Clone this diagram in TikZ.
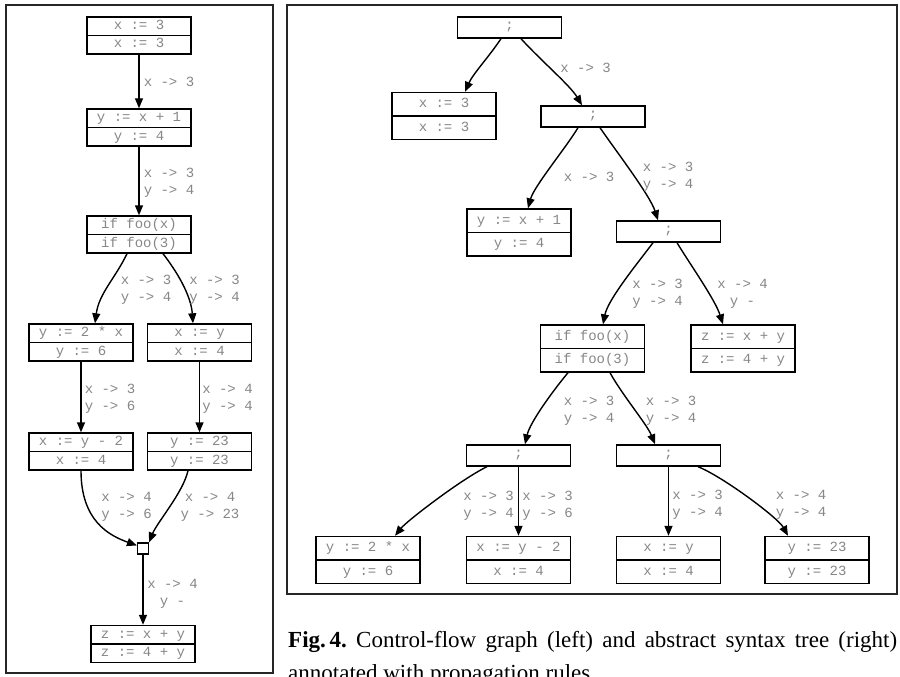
\documentclass[tikz,border=0pt]{standalone}
\usepackage{fontspec}
\setmainfont{Liberation Serif}
\newfontfamily\cfgmono{Liberation Mono}
\usetikzlibrary{shapes.multipart,arrows.meta,calc}
\definecolor{tgray}{RGB}{135,135,135}
\newcommand{\boxstrut}{\rule[-4pt]{0pt}{14.5pt}}
\newcommand{\tb}[2]{\makebox[98pt]{\boxstrut #1}\nodepart{two}\makebox[98pt]{\boxstrut #2}}
\tikzset{
  monotext/.style={font=\cfgmono\fontsize{14}{17}\selectfont, text=tgray},
  cfgbox/.style={rectangle split, rectangle split parts=2, draw=black, line width=1.4pt,
    monotext, inner xsep=3pt, inner ysep=1.3pt},
  astbox/.style={cfgbox, inner ysep=3.8pt},
  semibox/.style={draw=black, line width=1.4pt, monotext, minimum width=104pt,
    minimum height=21pt, inner sep=0pt},
  junct/.style={draw=black, line width=1.1pt, minimum size=11pt, inner sep=0pt},
  lbl/.style={monotext, align=center, inner sep=0pt},
  flow/.style={line width=1.4pt, draw=black, -{Triangle[length=10pt,width=8pt]}},
  panel/.style={draw=black!85, line width=1.5pt},
}
\begin{document}
\begin{tikzpicture}[x=1pt,y=-1pt]
\useasboundingbox (0,0) rectangle (900,677);
\clip (0,0) rectangle (900,677);
\fill[white] (0,0) rectangle (900,677);
% panels
\draw[panel] (6,5) rectangle (273,673);
\draw[panel] (287,5) rectangle (897,594);

% ---------- left: control-flow graph ----------
\node[cfgbox] (A) at (139,35.5) {\tb{x := 3}{x := 3}};
\node[cfgbox] (B) at (139,127.5) {\tb{y := x + 1}{y := 4}};
\node[cfgbox] (C) at (139,234.5) {\tb{if foo(x)}{if foo(3)}};
\node[cfgbox] (D) at (81,342.5) {\tb{y := 2 * x}{y := 6}};
\node[cfgbox] (E) at (199.5,342.5) {\tb{x := y}{x := 4}};
\node[cfgbox] (F) at (81,451.5) {\tb{x := y - 2}{x := 4}};
\node[cfgbox] (G) at (199.5,451.5) {\tb{y := 23}{y := 23}};
\node[junct] (J) at (143,548.5) {};
\node[cfgbox] (H) at (143,644) {\tb{z := x + y}{z := 4 + y}};

\draw[flow] (A) -- (B);
\draw[flow] (B) -- (C);
\draw[flow] ([xshift=-12pt]C.south) .. controls +(-12,25) and +(4,-30) .. ([xshift=14pt]D.north);
\draw[flow] ([xshift=24pt]C.south) .. controls +(14,18) and +(-2,-28) .. ([xshift=-6.5pt]E.north);
\draw[flow] (D) -- (F);
\draw[flow] (E) -- (G);
\draw[flow] (F.south) .. controls +(0,50) and +(-28,-10) .. ($(J.west)!0.5!(J.north west)$);
\draw[flow] ([xshift=-11.5pt]G.south) .. controls +(-5,22) and +(8,-20) .. (J.north east);
\draw[flow] (J) -- (H);

\node[lbl] (lAB) at (169,82) {x -> 3};
\node[lbl] (lBC) at (169,182.5) {x -> 3\\y -> 4};
\node[lbl] (lCD) at (146,290) {x -> 3\\y -> 4};
\node[lbl] (lCE) at (214.5,290) {x -> 3\\y -> 4};
\node[lbl] (lDF) at (110,398.5) {x -> 3\\y -> 6};
\node[lbl] (lEG) at (227.5,398.5) {x -> 4\\y -> 4};
\node[lbl] (lFJ) at (126.5,507) {x -> 4\\y -> 6};
\node[lbl] (lGJ) at (210,507) {x -> 4\\y -> 23};
\node[lbl] (lJH) at (172.5,594) {x -> 4\\y -};

% ---------- right: abstract syntax tree ----------
\node[semibox] (R0) at (509.5,27.5) {;};
\node[astbox] (Ax) at (444,116) {\tb{x := 3}{x := 3}};
\node[semibox] (R1) at (593,116.5) {;};
\node[astbox] (By) at (519,232.5) {\tb{y := x + 1}{y := 4}};
\node[semibox] (R2) at (668.5,231.5) {;};
\node[astbox] (Cr) at (592.5,348.5) {\tb{if foo(x)}{if foo(3)}};
\node[astbox] (Zr) at (743,348.5) {\tb{z := x + y}{z := 4 + y}};
\node[semibox] (R3) at (518.5,455.5) {;};
\node[semibox] (R4) at (668.5,455.5) {;};
\node[astbox] (L1) at (368,560) {\tb{y := 2 * x}{y := 6}};
\node[astbox] (L2) at (518.5,560) {\tb{x := y - 2}{x := 4}};
\node[astbox] (L3) at (668.5,560) {\tb{x := y}{x := 4}};
\node[astbox] (L4) at (817,560) {\tb{y := 23}{y := 23}};

\draw[flow] ([xshift=-8.5pt]R0.south) .. controls +(-12,18) and +(8,-18) .. ([xshift=21pt]Ax.north);
\draw[flow] ([xshift=11.5pt]R0.south) .. controls +(20,22) and +(-12,-20) .. ([xshift=-11pt]R1.north);
\draw[flow] ([xshift=-15pt]R1.south) .. controls +(-12,20) and +(6,-22) .. ([xshift=9pt]By.north);
\draw[flow] ([xshift=7pt]R1.south) .. controls +(15,22) and +(-8,-25) .. ([xshift=-10.5pt]R2.north);
\draw[flow] ([xshift=-15.5pt]R2.south) .. controls +(-15,20) and +(5,-25) .. ([xshift=10.5pt]Cr.north);
\draw[flow] ([xshift=8.5pt]R2.south) .. controls +(12,20) and +(-8,-25) .. ([xshift=-20pt]Zr.north);
\draw[flow] ([xshift=-24.5pt]Cr.south) .. controls +(-15,18) and +(5,-22) .. ([xshift=6.5pt]R3.north);
\draw[flow] ([xshift=17.5pt]Cr.south) .. controls +(12,22) and +(-8,-20) .. ([xshift=-13.5pt]R4.north);
\draw[flow] ([xshift=-31.5pt]R3.south) .. controls +(-25,12) and +(12,-15) .. ([xshift=27pt]L1.north);
\draw[flow] (R3) -- (L2);
\draw[flow] (R4) -- (L3);
\draw[flow] ([xshift=29.5pt]R4.south) .. controls +(25,10) and +(-10,-18) .. ([xshift=-29pt]L4.north);

\node[lbl] (rl01) at (585.5,68) {x -> 3};
\node[lbl] (rl1B) at (589,177) {x -> 3};
\node[lbl] (rl12) at (668,176.5) {x -> 3\\y -> 4};
\node[lbl] (rl2C) at (657.5,293.5) {x -> 3\\y -> 4};
\node[lbl] (rl2Z) at (742.5,293.5) {x -> 4\\y -};
\node[lbl] (rlC3) at (589,410.5) {x -> 3\\y -> 4};
\node[lbl] (rlC4) at (671,410.5) {x -> 3\\y -> 4};
\node[lbl] (rl31) at (488.5,505.5) {x -> 3\\y -> 4};
\node[lbl] (rl32) at (547.5,505.5) {x -> 3\\y -> 6};
\node[lbl] (rl43) at (697.5,505) {x -> 3\\y -> 4};
\node[lbl] (rl44) at (801,505) {x -> 4\\y -> 4};

% ---------- caption ----------
\node[anchor=base west, inner sep=0pt, font=\fontsize{23}{28}\selectfont\frenchspacing] (cap1) at (288,647)
  {\makebox[609pt][s]{\textbf{Fig.\,4.} Control-flow graph (left) and abstract syntax tree (right)}};
\node[anchor=base west, inner sep=0pt, font=\fontsize{23}{28}\selectfont] (cap2) at (288,680)
  {annotated with propagation rules.};
\end{tikzpicture}
\end{document}
